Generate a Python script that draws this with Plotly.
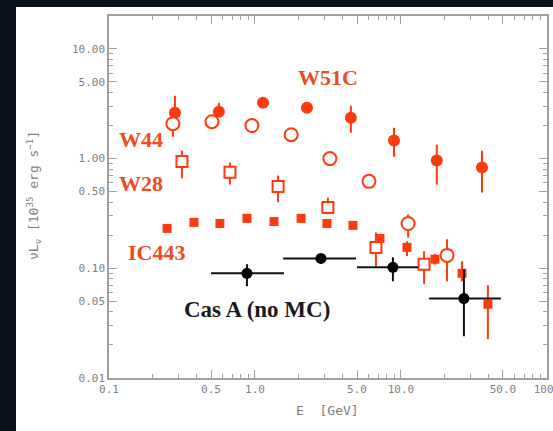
import plotly.graph_objects as go
import numpy as np

RED = "#ff3a0a"
GRAY = "#808080"
MONO = "DejaVu Sans Mono, Liberation Mono, monospace"

# W51C (filled circles)
w51c_e = [0.283, 0.566, 1.135, 2.27, 4.54, 8.96, 17.6, 35.9]
w51c_f = [2.62, 2.67, 3.23, 2.91, 2.36, 1.46, 0.96, 0.83]
w51c_hi = [3.74, 3.23, 3.45, 3.10, 3.03, 1.91, 1.34, 1.18]
w51c_lo = [2.10, 2.40, 3.00, 2.75, 1.72, 1.04, 0.58, 0.49]

# W44 (open circles)
w44_e = [0.274, 0.507, 0.953, 1.77, 3.26, 6.04, 11.2, 20.7]
w44_f = [2.08, 2.17, 2.00, 1.65, 1.00, 0.62, 0.256, 0.131]
w44_hi = [2.60, 2.25, 2.08, 1.72, 1.05, 0.65, 0.31, 0.184]
w44_lo = [1.58, 2.09, 1.92, 1.58, 0.95, 0.59, 0.19, 0.076]

# W28 (open squares)
w28_e = [0.316, 0.674, 1.44, 3.16, 6.74, 14.4]
w28_f = [0.94, 0.75, 0.556, 0.359, 0.155, 0.109]
w28_hi = [1.18, 0.92, 0.70, 0.44, 0.212, 0.143]
w28_lo = [0.66, 0.58, 0.40, 0.31, 0.104, 0.072]

# IC443 (filled squares)
ic443_e = [0.25, 0.382, 0.575, 0.881, 1.35, 2.07, 3.11, 4.69, 7.18, 11.0, 17.1, 26.2, 39.4]
ic443_f = [0.231, 0.262, 0.256, 0.285, 0.267, 0.285, 0.256, 0.246, 0.187, 0.155, 0.121, 0.090, 0.047]
ic443_hi = [0.236, 0.268, 0.262, 0.292, 0.274, 0.293, 0.265, 0.262, 0.205, 0.176, 0.135, 0.116, 0.070]
ic443_lo = [0.226, 0.256, 0.250, 0.278, 0.260, 0.277, 0.247, 0.230, 0.170, 0.129, 0.108, 0.076, 0.0226]

# Cas A (black, with energy bins)
casa_e = [0.881, 2.83, 8.81, 27.0]
casa_f = [0.090, 0.123, 0.102, 0.053]
casa_emin = [0.50, 1.56, 5.0, 15.6]
casa_emax = [1.58, 4.92, 13.1, 48.4]
casa_hi = [0.109, 0.135, 0.126, 0.098]
casa_lo = [0.0686, 0.112, 0.076, 0.024]

x_major = [0.1, 0.5, 1.0, 5.0, 10.0, 50.0, 100.0]
x_major_text = ["0.1", "0.5", "1.0", "5.0", "10.0", "50.0", "100."]
y_major = [0.01, 0.05, 0.10, 0.50, 1.00, 5.00, 10.00]
y_major_text = ["0.01", "0.05", "0.10", "0.50", "1.00", "5.00", "10.00"]


def err(f, hi, lo):
    f = np.array(f); hi = np.array(hi); lo = np.array(lo)
    return dict(type="data", symmetric=False, array=hi - f, arrayminus=f - lo,
                thickness=2, width=0)


fig = go.Figure()

fig.add_trace(go.Scatter(x=w28_e, y=w28_f, mode="markers",
                         error_y={**err(w28_f, w28_hi, w28_lo), "color": RED},
                         marker=dict(symbol="square", size=11, color="white",
                                     line=dict(width=2, color=RED))))
fig.add_trace(go.Scatter(x=ic443_e, y=ic443_f, mode="markers",
                         error_y={**err(ic443_f, ic443_hi, ic443_lo), "color": RED},
                         marker=dict(symbol="square", size=9, color=RED)))
fig.add_trace(go.Scatter(x=w51c_e, y=w51c_f, mode="markers",
                         error_y={**err(w51c_f, w51c_hi, w51c_lo), "color": RED},
                         marker=dict(symbol="circle", size=12, color=RED)))
fig.add_trace(go.Scatter(x=w44_e, y=w44_f, mode="markers",
                         error_y={**err(w44_f, w44_hi, w44_lo), "color": RED},
                         marker=dict(symbol="circle", size=13, color="white",
                                     line=dict(width=2, color=RED))))
ce = np.array(casa_e)
fig.add_trace(go.Scatter(x=casa_e, y=casa_f, mode="markers",
                         error_y={**err(casa_f, casa_hi, casa_lo), "color": "#111111"},
                         error_x=dict(type="data", symmetric=False,
                                      array=np.array(casa_emax) - ce,
                                      arrayminus=ce - np.array(casa_emin),
                                      thickness=2, width=0, color="#111111"),
                         marker=dict(symbol="circle", size=11, color="#000000")))


def minor_vals(lo_exp, hi_exp):
    vals = []
    for e in range(lo_exp, hi_exp):
        for m in range(2, 10):
            v = m * 10.0 ** e
            if abs(m - 5) > 0.01:
                vals.append(v)
    return vals


axis_common = dict(type="log", ticks="inside", mirror="allticks", showline=True,
                   linecolor="#a0a0a0", linewidth=1.5, tickcolor="#a0a0a0",
                   tickwidth=1.2, ticklen=8, showgrid=False, zeroline=False,
                   ticklabeloverflow="allow", automargin=False,
                   tickfont=dict(family=MONO, size=11, color=GRAY))

fig.update_xaxes(**axis_common, range=[-1, 2.0005], tickmode="array",
                 tickvals=x_major, ticktext=x_major_text,
                 minor=dict(tickmode="array", tickvals=minor_vals(-1, 2),
                            ticks="inside", ticklen=4, tickcolor="#a0a0a0", tickwidth=1.2))
fig.update_yaxes(**axis_common, range=[-2.0005, 1.3], tickmode="array",
                 tickvals=y_major, ticktext=y_major_text,
                 minor=dict(tickmode="array", tickvals=minor_vals(-2, 2),
                            ticks="inside", ticklen=4, tickcolor="#a0a0a0", tickwidth=1.2))

labels = [("W51C", 0.5, 0.736, "#f04a1e", 22), ("W44", -0.781, 0.173, "#f04a1e", 22),
          ("W28", -0.781, -0.227, "#f04a1e", 22), ("IC443", -0.678, -0.855, "#f04a1e", 22),
          ("Cas A (no MC)", 0.014, -1.373, "#1a1a1a", 23)]
for t, lx, ly, c, s in labels:
    fig.add_annotation(x=lx, y=ly, xref="x", yref="y", text="<b>%s</b>" % t,
                       showarrow=False, xanchor="center", yanchor="middle",
                       font=dict(family="Liberation Serif, Times New Roman",
                                 size=s, color=c))

fig.add_annotation(x=(34 - 109) / 438, y=(378 - 196) / 362, xref="paper", yref="paper",
                   text="νL<sub>ν</sub> [10<sup>35</sup> erg s<sup>−1</sup>]",
                   textangle=-90, showarrow=False, xanchor="center", yanchor="middle",
                   font=dict(family=MONO, size=13, color=GRAY))
fig.add_annotation(x=(327 - 109) / 438, y=(378 - 410) / 362, xref="paper", yref="paper",
                   text="E  [GeV]", showarrow=False, xanchor="center", yanchor="middle",
                   font=dict(family=MONO, size=13, color=GRAY))

fig.add_shape(type="rect", xref="paper", yref="paper", layer="below",
              x0=(16 - 109) / 438, x1=(553 - 109) / 438 + 0.01,
              y0=(378 - 431) / 362 - 0.01, y1=(378 - 7) / 362,
              fillcolor="white", line=dict(width=0))

fig.update_layout(width=553, height=431, showlegend=False,
                  margin=dict(l=109, r=6, t=16, b=53),
                  paper_bgcolor="#0a1119", plot_bgcolor="white")

fig.write_html("out.html", config={"displayModeBar": False},
               post_script="document.body.style.margin='0';"
                           "document.body.style.background='#0a1119';"
                           "document.body.style.overflow='hidden';")
